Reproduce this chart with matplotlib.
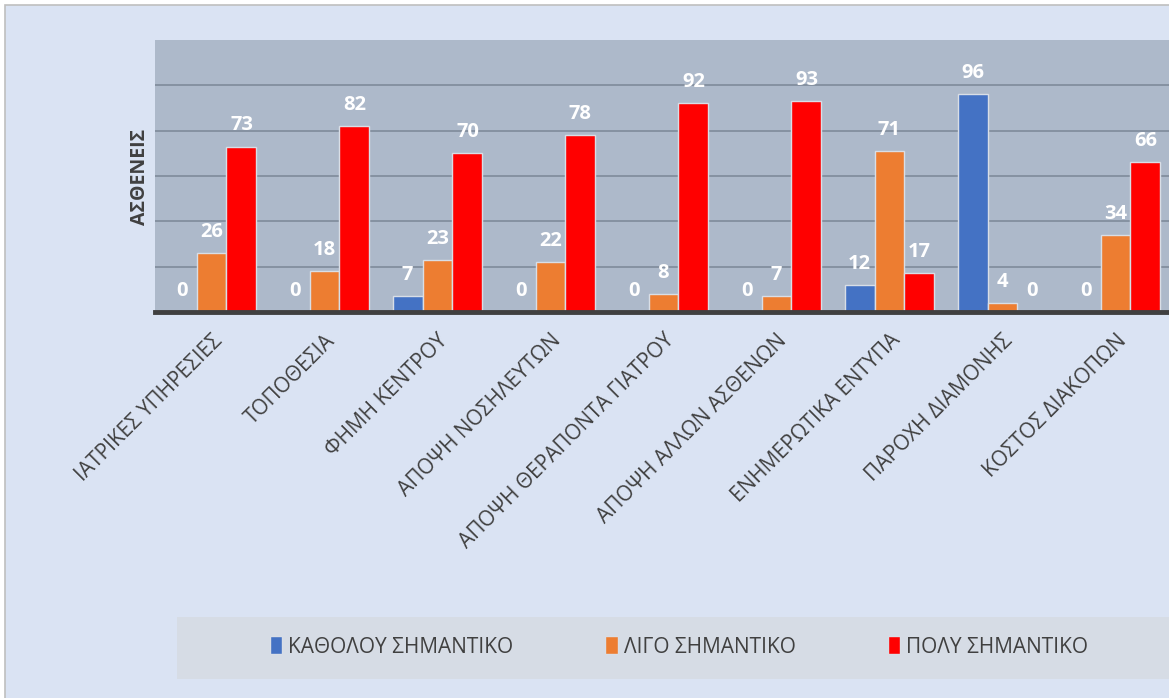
import numpy as np
import matplotlib.pyplot as plt
from matplotlib.patches import Rectangle

# Κατηγορίες και τιμές
categories = ['ΙΑΤΡΙΚΕΣ ΥΠΗΡΕΣΙΕΣ', 'ΤΟΠΟΘΕΣΙΑ', 'ΦΗΜΗ ΚΕΝΤΡΟΥ', 'ΑΠΟΨΗ ΝΟΣΗΛΕΥΤΩΝ',
              'ΑΠΟΨΗ ΘΕΡΑΠΟΝΤΑ ΓΙΑΤΡΟΥ', 'ΑΠΟΨΗ ΑΛΛΩΝ ΑΣΘΕΝΩΝ', 'ΕΝΗΜΕΡΩΤΙΚΑ ΕΝΤΥΠΑ',
              'ΠΑΡΟΧΗ ΔΙΑΜΟΝΗΣ', 'ΚΟΣΤΟΣ ΔΙΑΚΟΠΩΝ']
katholou = [0, 0, 7, 0, 0, 0, 12, 96, 0]
ligo = [26, 18, 23, 22, 8, 7, 71, 4, 34]
poly = [73, 82, 70, 78, 92, 93, 17, 0, 66]
series_names = ['ΚΑΘΟΛΟΥ ΣΗΜΑΝΤΙΚΟ', 'ΛΙΓΟ ΣΗΜΑΝΤΙΚΟ', 'ΠΟΛΥ ΣΗΜΑΝΤΙΚΟ']
colors = ['#4472C4', '#ED7D31', '#FF0000']

plt.rcParams['font.family'] = ['Open Sans', 'DejaVu Sans']

W, H = 1169, 698
fig = plt.figure(figsize=(W / 100, H / 100), dpi=100)
fig.patch.set_facecolor('white')

# Φόντο γραφήματος με περίγραμμα
fig.patches.append(Rectangle((5 / W, -0.05), 1.1, (H - 5) / H + 0.05, transform=fig.transFigure,
                             facecolor='#DAE3F3', edgecolor='#BFBFBF', lw=1.2, zorder=-2))
# Πλαίσιο υπομνήματος
fig.patches.append(Rectangle((177 / W, 1 - 679 / H), 1.0, 62 / H, transform=fig.transFigure,
                             facecolor='#D6DCE5', edgecolor='none', zorder=-1))

ax = fig.add_axes([155 / W, 1 - 312 / H, (1172 - 155) / W, (312 - 40) / H])
ax.set_facecolor('#ADB9CA')

x = np.arange(len(categories))
w = 0.265
bars = []
for i, (vals, name, c) in enumerate(zip([katholou, ligo, poly], series_names, colors)):
    b = ax.bar(x + (i - 1) * w, vals, w, color=c, edgecolor='#D9DEE6', linewidth=1,
               label=name, zorder=3)
    bars.append(b)
    for xi, v in zip(x + (i - 1) * w, vals):
        ax.annotate(str(v), (xi, v), xytext=(0, 8), textcoords='offset points',
                    ha='center', va='bottom', color='white', fontsize=14.5,
                    fontweight='bold', zorder=4)

ax.set_xlim(-0.5, len(categories) - 0.5)
ax.set_ylim(0, 120)
ax.set_yticks([20, 40, 60, 80, 100])
ax.yaxis.grid(True, color='#7F8B9B', lw=1.2)
ax.set_axisbelow(True)
ax.tick_params(axis='y', length=0, labelleft=False)
ax.tick_params(axis='x', length=0, pad=13)
ax.axhline(0, color='#404040', lw=3.5, zorder=5, clip_on=False)
for s in ax.spines.values():
    s.set_visible(False)

ax.set_xticks(x)
ax.set_xticklabels(categories, rotation=45, ha='right', rotation_mode='anchor',
                   fontsize=15, color='#404040')

fig.text(140 / W, 1 - 177 / H, 'ΑΣΘΕΝΕΙΣ', rotation=90, ha='center', va='center',
         fontsize=14, fontweight='bold', color='#404040')

fig.legend(handles=bars, loc='center', bbox_to_anchor=(679 / W, 1 - 647 / H), ncol=3,
           frameon=False, fontsize=15, labelcolor='#404040', handlelength=0.6,
           handleheight=0.95, handletextpad=0.3, columnspacing=4.4)

fig.savefig('out.png', dpi=100)
